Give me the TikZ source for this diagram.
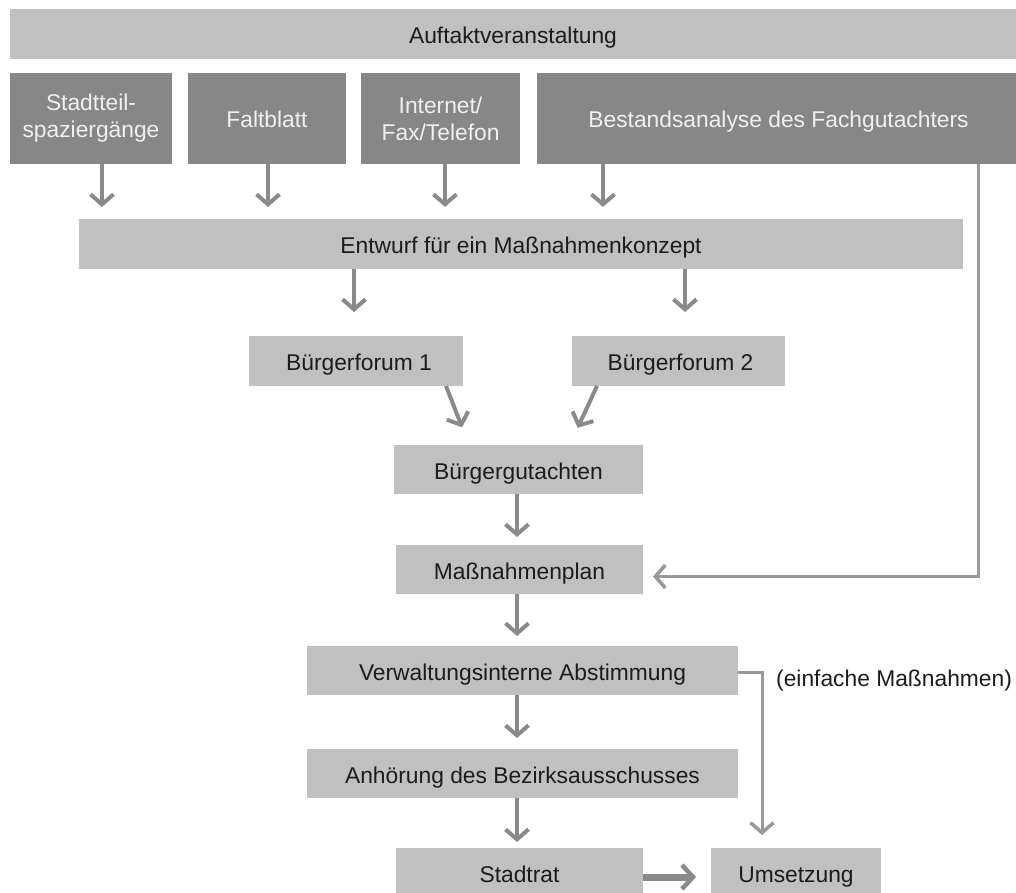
\documentclass[tikz,border=0pt]{standalone}
\usepackage{fontspec}
\setmainfont{Liberation Sans}
\usetikzlibrary{arrows.meta}
\definecolor{boxlight}{HTML}{C0C0C0}
\definecolor{boxdark}{HTML}{878787}
\definecolor{linegray}{HTML}{8A8A8A}
\definecolor{thingray}{HTML}{999999}
\definecolor{textdark}{HTML}{1C1C1C}
\definecolor{textlight}{HTML}{F0F0F0}

\begin{document}
\begin{tikzpicture}[x=1pt,y=-1pt,
  every node/.style={font=\fontsize{22.8}{27}\selectfont},
  boxtext/.style={inner sep=0pt, outer sep=0pt, align=center, text height=19pt, text depth=0pt},
  lightbox/.style={boxtext, fill=boxlight, text=textdark},
  darkbox/.style={boxtext, fill=boxdark, text=textlight},
  twolines/.style={text height=, text depth=},
  flowarrow/.style={draw=linegray, line width=4pt,
    -{Straight Barb[length=10pt,width=23pt,line width=4pt]}},
  sidearrow/.style={draw=thingray, line width=3pt,
    -{Straight Barb[length=10pt,width=23pt,line width=3.5pt]}},
  boldarrow/.style={draw=linegray, line width=7pt,
    -{Straight Barb[length=11pt,width=24pt,line width=4.5pt]}},
]
\useasboundingbox (0,0) rectangle (1016,893);
\clip (0,0) rectangle (1016,893);

% top bar
\node[lightbox, minimum width=1006pt, minimum height=50pt] (auf) at (513,34) {Auftaktveranstaltung};

% participation channels
\node[darkbox, twolines, minimum width=162pt, minimum height=91pt] (stadt) at (91,118.5) {Stadtteil-\\spaziergänge};
\node[darkbox, minimum width=158pt, minimum height=91pt] (falt) at (267,118.5) {Faltblatt};
\node[darkbox, twolines, minimum width=159pt, minimum height=91pt] (inet) at (440.5,118.5) {Internet/\\Fax/Telefon};
\node[darkbox, minimum width=479pt, minimum height=91pt] (best) at (776.5,118.5) {\hspace*{4pt}Bestandsanalyse des Fachgutachters};

% process chain
\node[lightbox, minimum width=884pt, minimum height=50pt] (entw) at (521,244) {Entwurf für ein Maßnahmenkonzept};
\node[lightbox, minimum width=214pt, minimum height=50pt] (bf1) at (356,361) {\hspace*{6pt}Bürgerforum 1};
\node[lightbox, minimum width=213pt, minimum height=50pt] (bf2) at (678.5,361) {\hspace*{4pt}Bürgerforum 2};
\node[lightbox, minimum width=249pt, minimum height=49pt] (bg) at (518.5,469.5) {Bürgergutachten};
\node[lightbox, minimum width=247pt, minimum height=49pt] (mp) at (519.5,569.5) {Maßnahmenplan};
\node[lightbox, minimum width=431pt, minimum height=49pt] (verw) at (522.5,670.5) {Verwaltungsinterne Abstimmung};
\node[lightbox, minimum width=431pt, minimum height=49pt] (anh) at (522.5,773.5) {Anhörung des Bezirksausschusses};
\node[lightbox, minimum width=247pt, minimum height=49pt] (rat) at (519.5,872.5) {Stadtrat};
\node[lightbox, minimum width=170pt, minimum height=49pt] (ums) at (796,872.5) {Umsetzung};
\node[anchor=base west, text=textdark, inner sep=0pt] (einf) at (776,686) {(einfache Maßnahmen)};

% channels feed the draft
\draw[flowarrow, shorten >=12pt] ([xshift=11pt]stadt.south) -- ([xshift=-419pt]entw.north);
\draw[flowarrow, shorten >=12pt] ([xshift=1pt]falt.south) -- ([xshift=-253pt]entw.north);
\draw[flowarrow, shorten >=12pt] ([xshift=4.5pt]inet.south) -- ([xshift=-76pt]entw.north);
\draw[flowarrow, shorten >=12pt] ([xshift=-173.5pt]best.south) -- ([xshift=82pt]entw.north);

% draft to the two forums
\draw[flowarrow, shorten >=24pt] ([xshift=-167pt]entw.south) -- ([xshift=-2pt]bf1.north);
\draw[flowarrow, shorten >=24pt] ([xshift=164pt]entw.south) -- ([xshift=6.5pt]bf2.north);

% forums to the citizens' report
\draw[flowarrow, shorten >=19pt] ([xshift=90pt]bf1.south) -- ([xshift=-49.5pt]bg.north);
\draw[flowarrow, shorten >=19pt] ([xshift=-81.5pt]bf2.south) -- ([xshift=51.2pt]bg.north);

% main chain downwards
\draw[flowarrow, shorten >=8pt] ([xshift=-1.5pt]bg.south) -- ([xshift=-2.5pt]mp.north);
\draw[flowarrow, shorten >=10pt] ([xshift=-2.5pt]mp.south) -- ([xshift=-5.5pt]verw.north);
\draw[flowarrow, shorten >=11pt] ([xshift=-5.5pt]verw.south) -- ([xshift=-5.5pt]anh.north);
\draw[flowarrow, shorten >=6pt] ([xshift=-5.5pt]anh.south) -- ([xshift=-2.5pt]rat.north);

% expert analysis goes straight into the plan
\draw[sidearrow, shorten >=10pt] ([xshift=-38pt]best.south east) |- ([yshift=-7pt]mp.east);

% simple measures bypass the council
\draw[sidearrow, shorten >=13pt] ([yshift=-2pt]verw.east) -| ([xshift=-34pt]ums.north);

% council decision to implementation
\draw[boldarrow, shorten >=15pt] ([yshift=-4.5pt]rat.east) -- ([yshift=-4.5pt]ums.west);
\end{tikzpicture}
\end{document}
